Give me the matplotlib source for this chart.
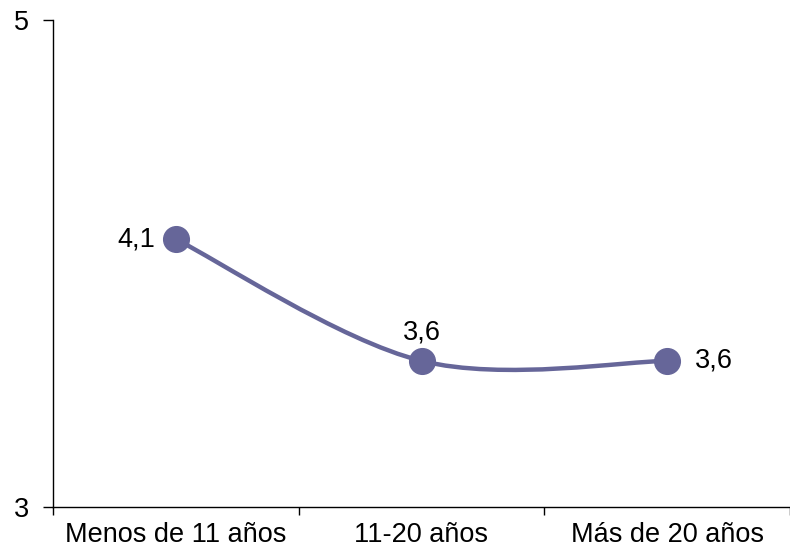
import numpy as np
import matplotlib.pyplot as plt
from matplotlib.path import Path
from matplotlib.patches import PathPatch

categories = ["Menos de 11 años", "11-20 años", "Más de 20 años"]
values = [4.1, 3.6, 3.6]
labels = ["4,1", "3,6", "3,6"]

plt.rcParams['font.family'] = ['Liberation Sans', 'DejaVu Sans']
color = '#666699'

fig = plt.figure(figsize=(7.9, 5.54), dpi=100)
ax = fig.add_axes([53 / 790, 47 / 554, 737 / 790, 487 / 554])

x = np.arange(len(values))
pts = np.column_stack([x, values]).astype(float)

# smoothed line like Excel (Catmull-Rom as cubic Bezier)
verts = [pts[0]]
codes = [Path.MOVETO]
n = len(pts)
for i in range(n - 1):
    p0 = pts[max(i - 1, 0)]
    p1 = pts[i]
    p2 = pts[i + 1]
    p3 = pts[min(i + 2, n - 1)]
    verts += [p1 + (p2 - p0) / 6, p2 - (p3 - p1) / 6, p2]
    codes += [Path.CURVE4] * 3
ax.add_patch(PathPatch(Path(verts, codes), facecolor='none', edgecolor=color,
                       lw=3.2, capstyle='round', zorder=2))
ax.plot(x, values, linestyle='none', marker='o', markersize=18.5,
        color=color, zorder=3)

offsets = [(-15, 0, 'right', 'center'), (0, 11, 'center', 'bottom'),
           (20, 0, 'left', 'center')]
for xi, v, lab, (dx, dy, ha, va) in zip(x, values, labels, offsets):
    ax.annotate(lab, (xi, v), xytext=(dx, dy), textcoords='offset points',
                ha=ha, va=va, fontsize=19.5)

ax.set_xlim(-0.5, 2.5)
ax.set_ylim(3, 5)
ax.set_yticks([3, 5])
ax.set_yticklabels(['3', '5'])
ax.set_xticks([-0.5, 0.5, 1.5, 2.5])
ax.set_xticklabels([])
ax.set_xticks(x, minor=True)
ax.set_xticklabels(categories, minor=True)
ax.tick_params(axis='x', which='major', length=6, width=1, direction='out')
ax.tick_params(axis='x', which='minor', length=0, pad=11, labelsize=19.5)
ax.tick_params(axis='y', length=7, width=1, pad=10, labelsize=19.5)
for s in ['top', 'right']:
    ax.spines[s].set_visible(False)
ax.spines['left'].set_linewidth(1)
ax.spines['bottom'].set_linewidth(1)

fig.savefig('out.png', dpi=100)
